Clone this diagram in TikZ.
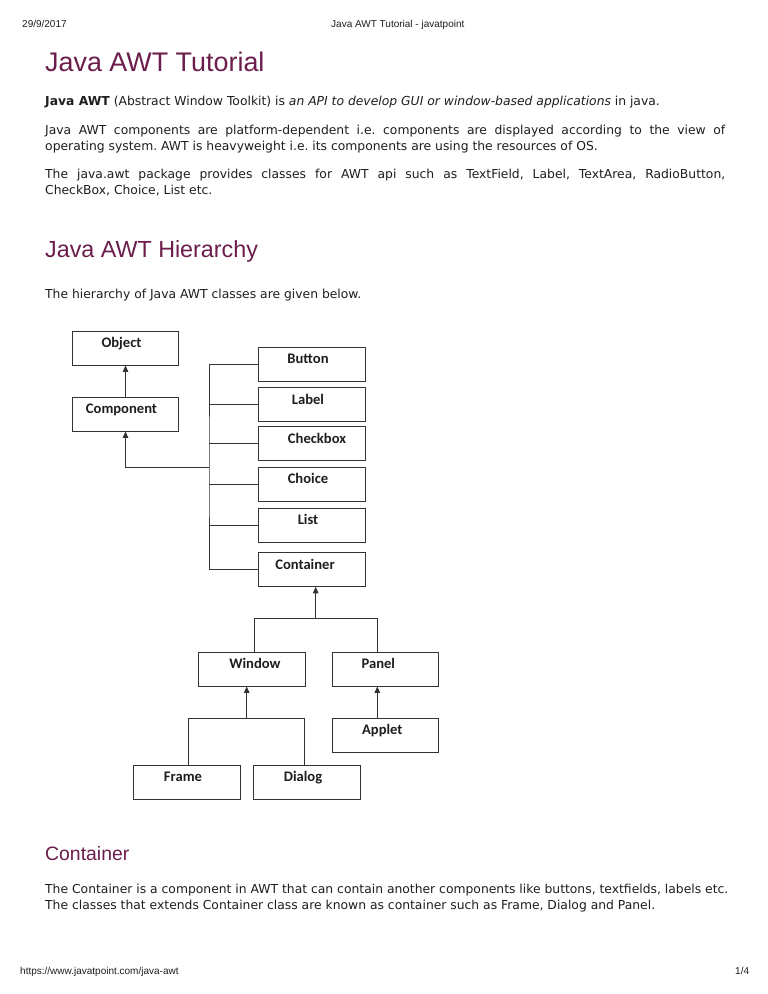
\documentclass[tikz,border=0pt]{standalone}
\usepackage{fontspec}
\setmainfont{DejaVu Sans}[ItalicFont={DejaVu Sans Oblique},BoldFont={DejaVu Sans Bold},BoldItalicFont={DejaVu Sans Bold Oblique}]
\newfontfamily\arialfont{Liberation Sans}
\newfontfamily\boxfont{Carlito}
\usetikzlibrary{arrows.meta}
\definecolor{heading}{HTML}{6B1D4B}
\definecolor{ink}{HTML}{1E1E1E}
\definecolor{wire}{HTML}{333333}
\frenchspacing
\begin{document}
\begin{tikzpicture}[x=1pt,y=-1pt,
  box/.style={draw=wire,line width=0.9pt,fill=white,minimum width=106.5pt,minimum height=34pt,inner sep=0pt},
  lab/.style={font=\boxfont\bfseries\fontsize{14.6}{15}\selectfont,text=ink,inner sep=0pt,text height=9.8pt,text depth=3pt,xshift=-4pt,yshift=3.7pt},
  wireline/.style={draw=wire,line width=0.9pt},
  arr/.style={wireline,-{Triangle[length=6.5pt,width=5.5pt]}},
  txt/.style={anchor=base west,inner sep=0pt,font=\fontsize{12.35}{16}\selectfont,text=ink},
  hdr/.style={anchor=base west,inner sep=0pt,font=\arialfont\fontsize{10}{12}\selectfont,text=ink},
  hone/.style={anchor=base west,inner sep=0pt,font=\arialfont\fontsize{26.9}{30}\selectfont,text=heading},
  htwo/.style={anchor=base west,inner sep=0pt,font=\arialfont\fontsize{23.3}{26}\selectfont,text=heading},
  hthree/.style={anchor=base west,inner sep=0pt,font=\arialfont\fontsize{19.4}{22}\selectfont,text=heading}
]
\fill[white] (0,0) rectangle (768,994);
\useasboundingbox (0,0) rectangle (768,994);

% page header and footer
\node[hdr] (date) at (22,27.5) {29/9/2017};
\node[hdr] (htitle) at (331,27.5) {Java AWT Tutorial - javatpoint};
\node[hdr] (url) at (20,974.5) {https://www.javatpoint.com/java-awt};
\node[hdr] (pg) at (735,974.5) {1/4};

% text
\node[hone] (t1) at (45,71.5) {Java AWT Tutorial};
\node[txt] (p1) at (45,105.5) {\textbf{Java AWT} (Abstract Window Toolkit) is \textit{an API to develop GUI or window-based applications} in java.};
\node[txt] (p2a) at (45,134.5) {\makebox[680pt][s]{Java AWT components are platform-dependent i.e. components are displayed according to the view of}};
\node[txt] (p2b) at (45,150.5) {operating system. AWT is heavyweight i.e. its components are using the resources of OS.};
\node[txt] (p3a) at (45,178.5) {\makebox[680pt][s]{The java.awt package provides classes for AWT api such as TextField, Label, TextArea, RadioButton,}};
\node[txt] (p3b) at (45,194.5) {CheckBox, Choice, List etc.};
\node[htwo] (t2) at (45,257.5) {Java AWT Hierarchy};
\node[txt] (p4) at (45,298.5) {The hierarchy of Java AWT classes are given below.};
\node[hthree] (t3) at (45,860) {Container};
\node[txt] (p5a) at (45,893.5) {The Container is a component in AWT that can contain another components like buttons, textfields, labels etc.};
\node[txt] (p5b) at (45,909.5) {The classes that extends Container class are known as container such as Frame, Dialog and Panel.};

% diagram boxes
\node[box,label={[lab]center:Object}] (obj) at (125.5,348) {};
\node[box,label={[lab]center:Component}] (comp) at (125.5,414) {};
\node[box,label={[lab]center:Button}] (button) at (312,364) {};
\node[box,label={[lab]center:Label}] (label) at (312,404.5) {};
\node[box,label={[lab,xshift=9pt]center:Checkbox}] (checkbox) at (312,443.3) {};
\node[box,label={[lab]center:Choice}] (choice) at (312,484) {};
\node[box,label={[lab]center:List}] (list) at (312,525) {};
\node[box,label={[lab,xshift=-3pt]center:Container}] (container) at (312,569.3) {};
\node[box,label={[lab,xshift=7pt]center:Window}] (window) at (252,669) {};
\node[box,label={[lab,xshift=-3pt]center:Panel}] (panel) at (385.3,669) {};
\node[box,label={[lab,xshift=1pt]center:Applet}] (applet) at (385.3,735) {};
\node[box,label={[lab]center:Frame}] (frame) at (187,782) {};
\node[box,label={[lab]center:Dialog}] (dialog) at (307,782) {};

% junction points
\coordinate (tk) at (209,467);
\coordinate (j1) at (315.7,618.7);
\coordinate (wd) at (254,618.7);
\coordinate (pd) at (377,618.7);
\coordinate (j2) at (246.7,718);
\coordinate (fd) at (188,718);
\coordinate (dd) at (304,718);
\coordinate (pa) at (377.3,700);

% connectors
\draw[arr] (comp.north) -- (obj.south);
\draw[wireline] (button.west) -| (tk) |- (container.west);
\draw[wireline] (label.west) -- (label.west -| tk);
\draw[wireline] (checkbox.west) -- (checkbox.west -| tk);
\draw[wireline] (choice.west) -- (choice.west -| tk);
\draw[wireline] (list.west) -- (list.west -| tk);
\draw[arr] (tk) -| (comp.south);
\draw[arr] (j1) -- (j1 |- container.south);
\draw[wireline] (wd |- window.north) -- (wd) -- (pd) -- (pd |- panel.north);
\draw[arr] (j2) -- (j2 |- window.south);
\draw[wireline] (fd |- frame.north) -- (fd) -- (dd) -- (dd |- dialog.north);
\draw[arr] (pa |- applet.north) -- (pa |- panel.south);
\end{tikzpicture}
\end{document}
